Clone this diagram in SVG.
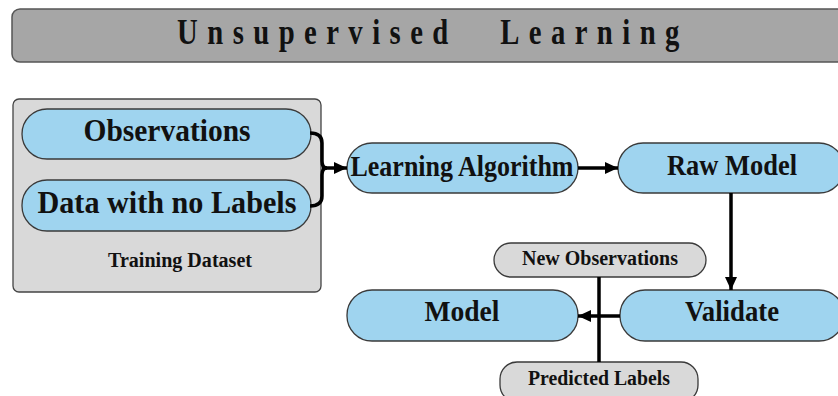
<svg xmlns="http://www.w3.org/2000/svg" width="838" height="396" viewBox="0 0 838 396">
<defs>
<style>
.title{fill:#a6a6a6;stroke:#555;stroke-width:1.5}
.box{fill:#d9d9d9;stroke:#444;stroke-width:1.3}
.pill{fill:#9fd4ef;stroke:#3a3a3a;stroke-width:1.3}
.gpill{fill:#d9d9d9;stroke:#3a3a3a;stroke-width:1.3}
text{font-family:"Liberation Serif","Times New Roman",serif;font-weight:bold;fill:#111}
.conn{fill:none;stroke:#000;stroke-width:3.5}
</style>
<marker id="ah" markerUnits="userSpaceOnUse" markerWidth="14" markerHeight="14" viewBox="0 0 14 14" refX="13" refY="7" orient="auto">
<path d="M0,1 L13,7 L0,13 Z" fill="#000"/>
</marker>
</defs>
<g id="title">
<rect class="title" x="12" y="9" width="840" height="53" rx="8"/>
<text transform="translate(0,44) scale(0.82,1)" font-size="35" letter-spacing="11.5"><tspan x="216">Unsupervised</tspan><tspan x="610">Learning</tspan></text>
</g>
<g id="training-dataset">
<rect class="box" x="13" y="99" width="308" height="193" rx="6"/>
<text x="180" y="267" font-size="20" text-anchor="middle" textLength="144" lengthAdjust="spacingAndGlyphs">Training Dataset</text>
</g>
<g id="observations">
<rect class="pill" x="22" y="109" width="289" height="50" rx="25"/>
<text x="167" y="141" font-size="31" text-anchor="middle" textLength="167" lengthAdjust="spacingAndGlyphs">Observations</text>
</g>
<g id="data-no-labels">
<rect class="pill" x="22" y="180" width="289" height="51" rx="25"/>
<text x="167" y="213" font-size="31" text-anchor="middle" textLength="259" lengthAdjust="spacingAndGlyphs">Data with no Labels</text>
</g>
<g id="learning-algorithm">
<rect class="pill" x="347" y="143" width="231" height="50" rx="25"/>
<text x="462" y="176" font-size="30" text-anchor="middle" textLength="223" lengthAdjust="spacingAndGlyphs">Learning Algorithm</text>
</g>
<g id="raw-model">
<rect class="pill" x="618" y="143" width="226" height="50" rx="25"/>
<text x="732" y="175" font-size="30" text-anchor="middle" textLength="130" lengthAdjust="spacingAndGlyphs">Raw Model</text>
</g>
<g id="new-observations">
<rect class="gpill" x="494" y="243" width="212" height="34" rx="17"/>
<text x="600" y="265" font-size="20" text-anchor="middle" textLength="156" lengthAdjust="spacingAndGlyphs">New Observations</text>
</g>
<g id="model">
<rect class="pill" x="347" y="290" width="231" height="51" rx="25"/>
<text x="462" y="321" font-size="30" text-anchor="middle" textLength="75" lengthAdjust="spacingAndGlyphs">Model</text>
</g>
<g id="validate">
<rect class="pill" x="620" y="290" width="224" height="51" rx="25"/>
<text x="732" y="321" font-size="30" text-anchor="middle" textLength="94" lengthAdjust="spacingAndGlyphs">Validate</text>
</g>
<g id="predicted-labels">
<rect class="gpill" x="500" y="362" width="198" height="40" rx="17"/>
<text x="599" y="385" font-size="20" text-anchor="middle" textLength="142" lengthAdjust="spacingAndGlyphs">Predicted Labels</text>
</g>
<g id="connectors">
<path class="conn" d="M310,133 Q322,133 322,143 L322,161 Q322,168 327,168 Q322,168 322,175 L322,196 Q322,206 310,206"/>
<path class="conn" d="M322,168 L347,168" marker-end="url(#ah)"/>
<path class="conn" d="M578,168 L618,168" marker-end="url(#ah)"/>
<path class="conn" d="M731,193 L731,290" marker-end="url(#ah)"/>
<path class="conn" d="M599,277 L599,362"/>
<path class="conn" d="M620,316 L578,316" marker-end="url(#ah)"/>
</g>
</svg>
